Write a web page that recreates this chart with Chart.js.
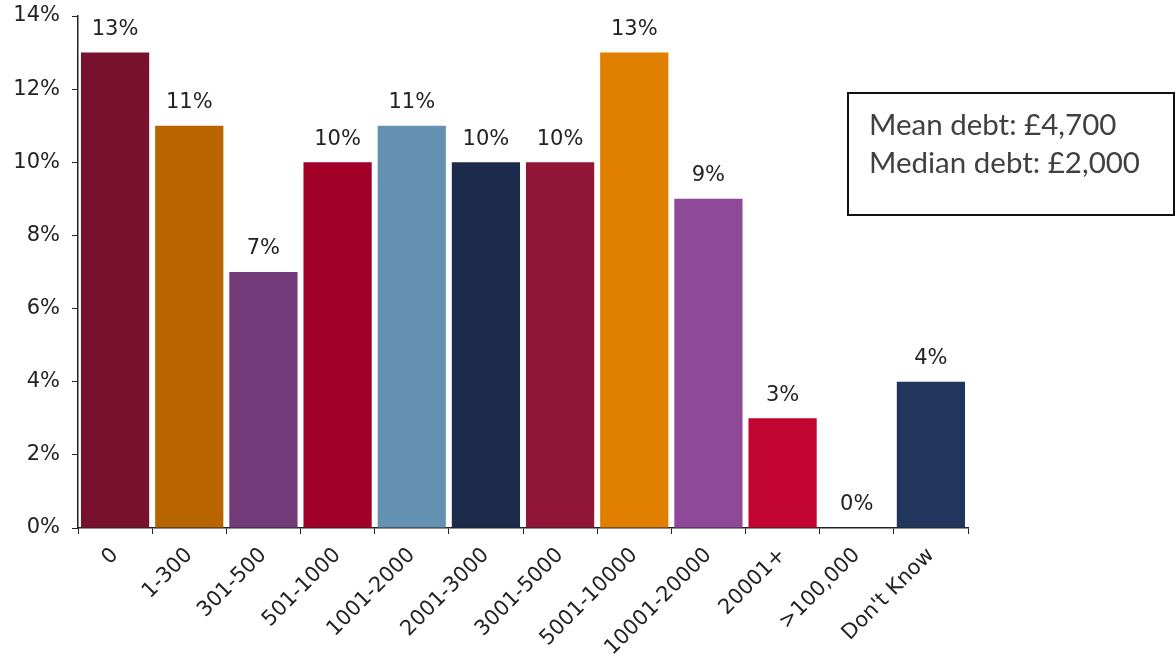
<!DOCTYPE html>
<html>
<head>
<meta charset="utf-8">
<title>Debt distribution</title>
<script src="https://cdn.jsdelivr.net/npm/chart.js@4.4.1/dist/chart.umd.min.js"></script>
<style>
  html, body { margin: 0; padding: 0; background: #fff; }
  #wrap { width: 1176px; height: 660px; }
</style>
</head>
<body>
<div id="wrap"><canvas id="debtChart"></canvas></div>
<script>
// debt bands and share of respondents (%)
const bands = ["0", "1-300", "301-500", "501-1000", "1001-2000", "2001-3000", "3001-5000",
  "5001-10000", "10001-20000", "20001+", ">100,000", "Don't Know"];
const shares = [13, 11, 7, 10, 11, 10, 10, 13, 9, 3, 0, 4];
const barColours = ["#77112d", "#b86500", "#733a7a", "#a10127", "#6491b1", "#1c2a4c",
  "#901537", "#e07f00", "#8e4a98", "#c20430", "#ffffff", "#22355c"];
const yTicks = [0, 2, 4, 6, 8, 10, 12, 14];
const summaryLines = ["Mean debt: £4,700", "Median debt: £2,000"];

const axisFont = { family: "'DejaVu Sans', Verdana, sans-serif", size: 21 };

// percentage above each bar
const valueLabels = {
  id: "valueLabels",
  afterDatasetsDraw(chart) {
    const ctx = chart.ctx;
    const meta = chart.getDatasetMeta(0);
    ctx.save();
    ctx.font = "21px 'DejaVu Sans', Verdana, sans-serif";
    ctx.fillStyle = "#222";
    ctx.textAlign = "center";
    ctx.textBaseline = "middle";
    meta.data.forEach((bar, i) => {
      ctx.fillText(shares[i] + "%", bar.x, bar.y - 23);
    });
    ctx.restore();
  },
};

// boxed mean / median note
const summaryBox = {
  id: "summaryBox",
  afterDraw(chart) {
    const ctx = chart.ctx;
    ctx.save();
    ctx.strokeStyle = "#111";
    ctx.lineWidth = 2;
    ctx.strokeRect(848, 93, 326, 122);
    ctx.font = "29.5px Lato, 'Open Sans', sans-serif";
    ctx.fillStyle = "#404040";
    ctx.textAlign = "left";
    ctx.textBaseline = "middle";
    summaryLines.forEach((line, i) => {
      ctx.fillText(line, 869, 125 + i * 38);
    });
    ctx.restore();
  },
};

new Chart(document.getElementById("debtChart"), {
  type: "bar",
  data: {
    labels: bands,
    datasets: [
      {
        data: shares,
        backgroundColor: barColours,
        barPercentage: 0.92,
        categoryPercentage: 1,
      },
    ],
  },
  options: {
    responsive: true,
    maintainAspectRatio: false,
    animation: false,
    layout: { padding: { top: 16, right: 208, left: 0, bottom: 0 } },
    plugins: {
      legend: { display: false },
      tooltip: { enabled: false },
    },
    scales: {
      y: {
        min: 0,
        max: 14,
        afterFit: (scale) => {
          scale.width = 78;
          scale.paddingTop = 0;
          scale.paddingBottom = 0;
        },
        afterBuildTicks: (scale) => { scale.ticks = yTicks.map((v) => ({ value: v })); },
        border: { color: "#222", width: 1.5 },
        grid: { drawOnChartArea: false, color: "#222", tickLength: 6 },
        ticks: {
          padding: 12,
          color: "#222",
          font: axisFont,
          callback: (v) => v + "%",
        },
      },
      x: {
        afterFit: (scale) => {
          scale.height = 132;
          scale.paddingLeft = 0;
          scale.paddingRight = 0;
        },
        border: { color: "#222", width: 1.5 },
        grid: { drawOnChartArea: false, color: "#222", tickLength: 6, offset: true },
        ticks: {
          color: "#222",
          font: axisFont,
          minRotation: 45,
          maxRotation: 45,
          autoSkip: false,
          padding: 9,
        },
      },
    },
  },
  plugins: [valueLabels, summaryBox],
});
</script>
</body>
</html>
